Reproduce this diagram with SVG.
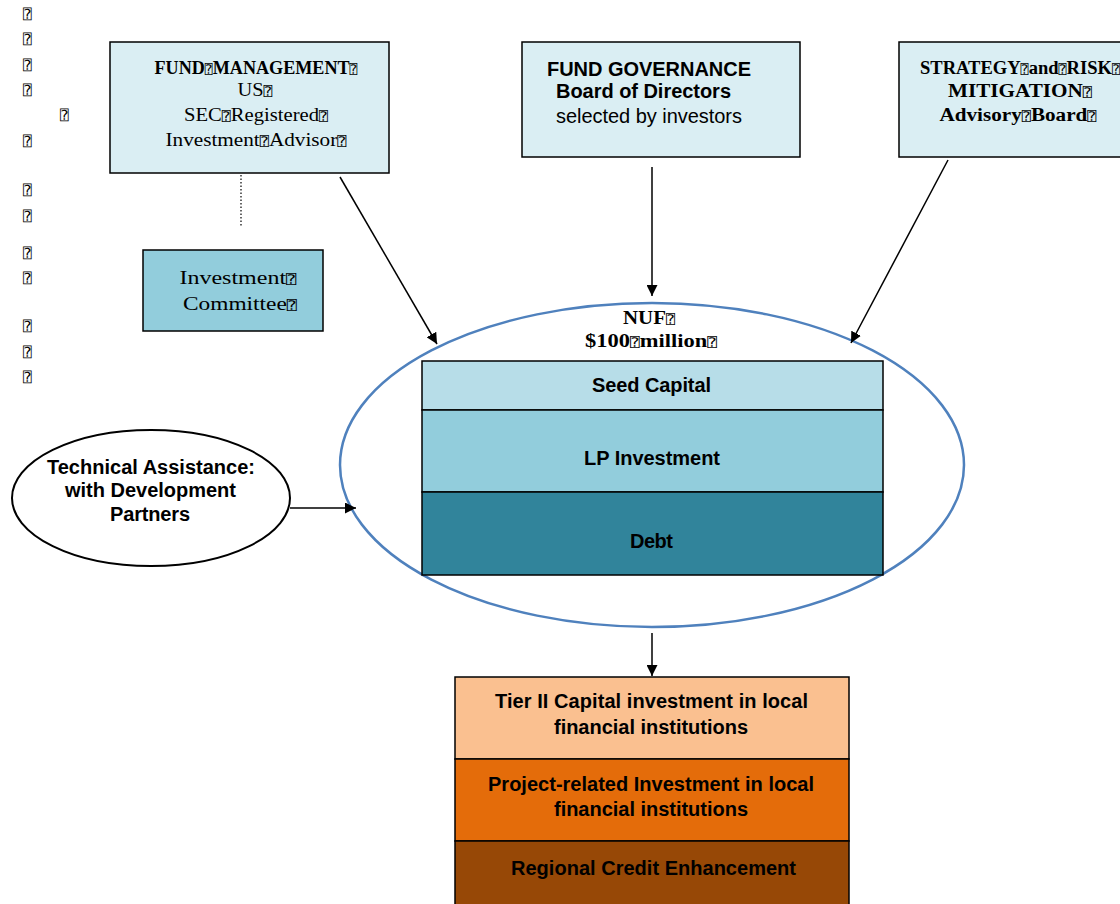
<svg xmlns="http://www.w3.org/2000/svg" width="1120" height="904" viewBox="0 0 1120 904">
<style>
.box{stroke:#000;stroke-width:1.5}
.srf{font-family:"Liberation Serif","DejaVu Serif",serif;fill:#000;font-size:18px}
.sans{font-family:"Liberation Sans",Arial,sans-serif;fill:#000;font-size:20px}
.b{font-weight:bold}
.c{text-anchor:middle}
.con{stroke:#000;stroke-width:1.5;fill:none}
.t{font-family:"DejaVu Sans Mono","DejaVu Sans",monospace;font-size:13px;font-weight:normal}
.tofu{font-family:"DejaVu Sans Mono","DejaVu Sans",monospace;font-size:14px;fill:#000}
</style>
<defs>
<marker id="ah" viewBox="0 0 10 10" refX="10" refY="5" markerWidth="11" markerHeight="11" markerUnits="userSpaceOnUse" orient="auto"><path d="M0,0 L10,5 L0,10 z" fill="#000"/></marker>
</defs>
<rect width="1120" height="904" fill="#fff"/>
<g id="margin" class="tofu">
<text x="23" y="19">⍰</text>
<text x="23" y="44">⍰</text>
<text x="23" y="70">⍰</text>
<text x="23" y="95">⍰</text>
<text x="60" y="120">⍰</text>
<text x="23" y="146">⍰</text>
<text x="23" y="195">⍰</text>
<text x="23" y="221">⍰</text>
<text x="23" y="258">⍰</text>
<text x="23" y="283">⍰</text>
<text x="23" y="331">⍰</text>
<text x="23" y="357">⍰</text>
<text x="23" y="382">⍰</text>
</g>
<g id="fund-management">
<rect class="box" x="110" y="42" width="279" height="131" fill="#daeef3"/>
<text class="srf b c" x="256" y="74" textLength="203" lengthAdjust="spacingAndGlyphs">FUND<tspan class="t">⍰</tspan>MANAGEMENT<tspan class="t">⍰</tspan></text>
<text class="srf c" x="255" y="96" textLength="35" lengthAdjust="spacingAndGlyphs">US<tspan class="t">⍰</tspan></text>
<text class="srf c" x="256" y="121" textLength="144" lengthAdjust="spacingAndGlyphs">SEC<tspan class="t">⍰</tspan>Registered<tspan class="t">⍰</tspan></text>
<text class="srf c" x="256" y="146" textLength="181" lengthAdjust="spacingAndGlyphs">Investment<tspan class="t">⍰</tspan>Advisor<tspan class="t">⍰</tspan></text>
</g>
<g id="investment-committee">
<rect class="box" x="143" y="250" width="180" height="81" fill="#92cddc"/>
<text class="srf c" x="238" y="284" font-size="22" textLength="117" lengthAdjust="spacingAndGlyphs">Investment<tspan class="t">⍰</tspan></text>
<text class="srf c" x="240" y="310" font-size="22" textLength="114" lengthAdjust="spacingAndGlyphs">Committee<tspan class="t">⍰</tspan></text>
</g>
<g id="fund-governance">
<rect class="box" x="522" y="42" width="278" height="115" fill="#daeef3"/>
<text class="sans b" x="547" y="76" textLength="204">FUND GOVERNANCE</text>
<text class="sans b" x="556" y="98" textLength="175">Board of Directors</text>
<text class="sans" x="556" y="123" textLength="186">selected by investors</text>
</g>
<g id="strategy">
<rect class="box" x="899" y="42" width="225" height="115" fill="#daeef3"/>
<text class="srf b c" x="1020" y="74" textLength="200" lengthAdjust="spacingAndGlyphs">STRATEGY<tspan class="t">⍰</tspan>and<tspan class="t">⍰</tspan>RISK<tspan class="t">⍰</tspan></text>
<text class="srf b c" x="1020" y="97" textLength="144" lengthAdjust="spacingAndGlyphs">MITIGATION<tspan class="t">⍰</tspan></text>
<text class="srf b c" x="1018" y="121" textLength="157" lengthAdjust="spacingAndGlyphs">Advisory<tspan class="t">⍰</tspan>Board<tspan class="t">⍰</tspan></text>
</g>
<g id="nuf">
<ellipse cx="652" cy="465" rx="312" ry="162" fill="#fff" stroke="#4f81bd" stroke-width="2.5"/>
<text class="srf b c" x="649" y="324" font-size="19" textLength="52" lengthAdjust="spacingAndGlyphs">NUF<tspan class="t">⍰</tspan></text>
<text class="srf b c" x="651" y="347" font-size="19" textLength="132" lengthAdjust="spacingAndGlyphs">$100<tspan class="t">⍰</tspan>million<tspan class="t">⍰</tspan></text>
<rect class="box" x="422" y="361" width="461" height="49" fill="#b7dde8"/>
<rect class="box" x="422" y="410" width="461" height="82" fill="#92cddc"/>
<rect class="box" x="422" y="492" width="461" height="83" fill="#31849b"/>
<text class="sans b" x="592" y="392" textLength="119">Seed Capital</text>
<text class="sans b" x="584" y="465" textLength="136">LP Investment</text>
<text class="sans b" x="630" y="548" textLength="43">Debt</text>
</g>
<g id="technical-assistance">
<ellipse cx="151" cy="498" rx="139" ry="68" fill="#fff" stroke="#000" stroke-width="2"/>
<text class="sans b" x="47" y="474" textLength="208">Technical Assistance:</text>
<text class="sans b" x="65" y="497" textLength="171">with Development</text>
<text class="sans b" x="110" y="521" textLength="80">Partners</text>
</g>
<g id="tier2">
<rect class="box" x="455" y="677" width="394" height="82" fill="#fac090"/>
<text class="sans b" x="495" y="708" textLength="313">Tier II Capital investment in local</text>
<text class="sans b" x="554" y="734" textLength="194">financial institutions</text>
</g>
<g id="project-related">
<rect class="box" x="455" y="759" width="394" height="82" fill="#e46c0a"/>
<text class="sans b" x="488" y="791" textLength="326">Project-related Investment in local</text>
<text class="sans b" x="554" y="816" textLength="194">financial institutions</text>
</g>
<g id="regional">
<rect class="box" x="455" y="841" width="394" height="70" fill="#974806"/>
<text class="sans b" x="511" y="875" textLength="285">Regional Credit Enhancement</text>
</g>
<g id="connectors">
<line x1="241" y1="175" x2="241" y2="226" stroke="#000" stroke-width="1.2" stroke-dasharray="1.5,2"/>
<line class="con" x1="340" y1="177" x2="437" y2="344" marker-end="url(#ah)"/>
<line class="con" x1="652" y1="167" x2="652" y2="296" marker-end="url(#ah)"/>
<line class="con" x1="948" y1="160" x2="851" y2="343" marker-end="url(#ah)"/>
<line class="con" x1="290" y1="508" x2="356" y2="508" marker-end="url(#ah)"/>
<line class="con" x1="652" y1="633" x2="652" y2="676" marker-end="url(#ah)"/>
</g>
</svg>
